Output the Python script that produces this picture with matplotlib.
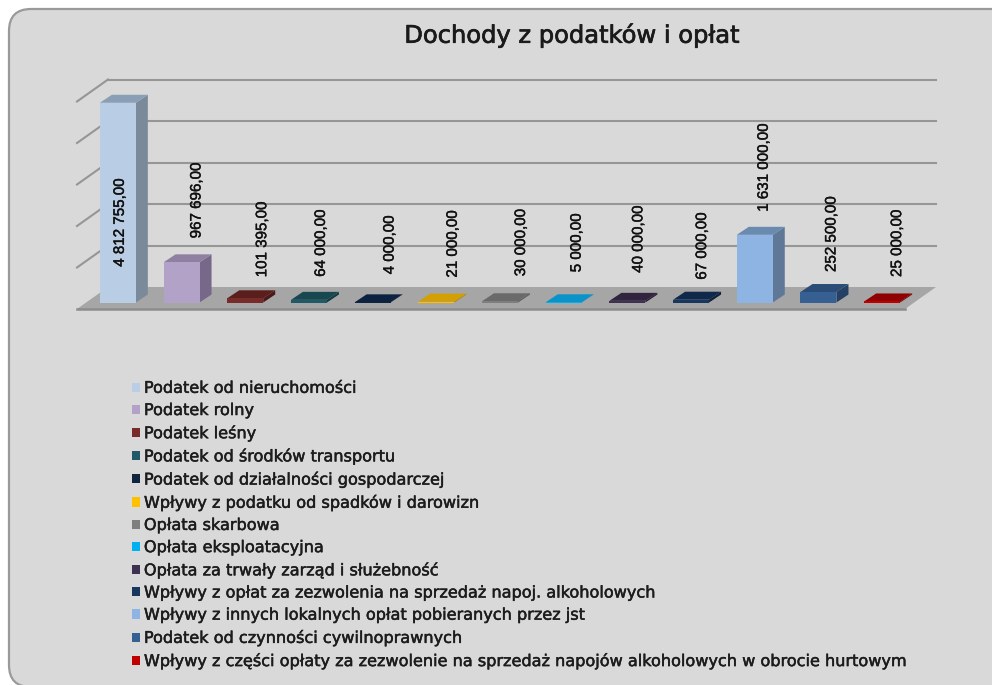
import matplotlib
matplotlib.use('Agg')
import matplotlib.pyplot as plt
import matplotlib.patheffects as pe
from matplotlib.patches import FancyBboxPatch, Patch, Polygon
from matplotlib.transforms import IdentityTransform

plt.rcParams['font.family'] = ['Liberation Sans', 'DejaVu Sans']

categories = [
    'Podatek od nieruchomości',
    'Podatek rolny',
    'Podatek leśny',
    'Podatek od środków transportu',
    'Podatek od działalności gospodarczej',
    'Wpływy z podatku od spadków i darowizn',
    'Opłata skarbowa',
    'Opłata eksploatacyjna',
    'Opłata za trwały zarząd i służebność',
    'Wpływy z opłat za zezwolenia na sprzedaż napoj. alkoholowych',
    'Wpływy z innych lokalnych opłat pobieranych przez jst',
    'Podatek od czynności cywilnoprawnych',
    'Wpływy z części opłaty za zezwolenie na sprzedaż napojów alkoholowych w obrocie hurtowym',
]
values = [4812755, 967696, 101395, 64000, 4000, 21000, 30000, 5000, 40000, 67000, 1631000, 252500, 25000]
grid_values = [0, 1000000, 2000000, 3000000, 4000000, 5000000]

front_colors = ['#b9cde5', '#b3a2c7', '#772c2a', '#215968', '#10253f', '#ffc000', '#7f7f7f',
                '#00b0f0', '#3f3151', '#17375e', '#8eb4e3', '#376092', '#c00000']
top_colors = ['#8a9eb6', '#8f7fa0', '#5a1e1c', '#17474f', '#0d2240', '#d49f00', '#6a6a6a',
              '#0a93c8', '#30243f', '#10294a', '#6b8ab0', '#2a4c76', '#8f0000']
side_colors = ['#7b8a9a', '#77688a', '#4a1a18', '#123a42', '#0a1a30', '#a87f00', '#555555',
               '#0a75a0', '#261c33', '#0c2038', '#5f7898', '#244064', '#700000']

# label position relative to the top of each bar, in pixels
label_dx = [2, 15, 17, 12, 17, 16.5, 21, 13, 11, 11, 9, 13, 15]
label_dy = [-164, 24, 21, 23, 28, 24, 25, 30, 28, 20, 23, 20, 24.5]

W, H = 992, 685
fig = plt.figure(figsize=(W / 100, H / 100), dpi=100, facecolor='white')

# rounded grey panel
bg = fig.add_axes([0, 0, 1, 1])
bg.set_xlim(0, W)
bg.set_ylim(H, 0)
bg.set_axis_off()
bg.add_patch(FancyBboxPatch((9, 9), W + 40, 678, boxstyle='round,pad=0,rounding_size=22',
                            facecolor='#d9d9d9', edgecolor='#9a9a9a', linewidth=1.6))

# plane of the bar fronts
left, right, base, top = 86, 914, 302.5, 95
ax = fig.add_axes([left / W, (H - base) / H, (right - left) / W, (base - top) / H])
ax.set_xlim(-0.5, len(values) - 0.5)
ax.set_ylim(0, 5000000)
ax.set_axis_off()
ax.patch.set_alpha(0)


def face(points, **kw):
    # points are (x, value, depth_x_px, depth_y_px)
    verts = [ax.transData.transform((x, y)) + (dx, dy) for x, y, dx, dy in points]
    ax.add_patch(Polygon(verts, closed=True, transform=IdentityTransform(), clip_on=False,
                         linewidth=0, **kw))


def line(points, **kw):
    verts = [ax.transData.transform((x, y)) + (dx, dy) for x, y, dx, dy in points]
    ax.plot([v[0] for v in verts], [v[1] for v in verts], transform=IdentityTransform(),
            clip_on=False, **kw)


x0, x1 = -0.5, len(values) - 0.5
front_d = (-9, -6.5)
back_d = (22, 15.5)
grid_style = dict(color='#969696', linewidth=1.5, zorder=1)

for g in grid_values[1:]:
    line([(x0, g, *back_d), (x1, g, *back_d)], **grid_style)
    line([(x0, g, *front_d), (x0, g, *back_d)], **grid_style)

# floor
face([(x0, 0, *front_d), (x1, 0, *front_d), (x1, 0, *back_d), (x0, 0, *back_d)],
     facecolor='#a6a6a6', zorder=2)
line([(x0, 0, *front_d), (x1, 0, *front_d)], color='#8c8c8c', linewidth=1.8, zorder=2.5)

# bars with side and top faces
bar_w = 36 / 63.7
depth = (12, 8)
xs = list(range(len(values)))
ax.bar(xs, values, width=bar_w, color=front_colors, linewidth=0, zorder=5)
for i, v in enumerate(values):
    l, r = i - bar_w / 2, i + bar_w / 2
    face([(r, 0, 0, 0), (r, v, 0, 0), (r, v, *depth), (r, 0, *depth)],
         facecolor=side_colors[i], zorder=4)
    face([(l, v, 0, 0), (r, v, 0, 0), (r, v, *depth), (l, v, *depth)],
         facecolor=top_colors[i], zorder=4)
    text = f'{v:,.2f}'.replace(',', ' ').replace('.', ',')
    lab = ax.annotate(text, (i, v), xytext=(label_dx[i], label_dy[i]), textcoords='offset pixels',
                      rotation=90, ha='center', va='bottom', fontsize=10.9, color='#111111', zorder=6)
    lab.set_path_effects([pe.withStroke(linewidth=0.3, foreground='#111111')])

title = fig.text(572 / W, (H - 35) / H, 'Dochody z podatków i opłat', ha='center', va='center',
                 fontsize=17.4, color='#1a1a1a', family='DejaVu Sans')
title.set_path_effects([pe.withStroke(linewidth=0.5, foreground='#1a1a1a')])

handles = [Patch(facecolor=c, linewidth=0) for c in front_colors]
leg = fig.legend(handles, categories, loc='upper left', bbox_to_anchor=(127 / W, (H - 376) / H),
                 frameon=False, handlelength=0.5, handleheight=0.5,
                 handletextpad=0.25, labelspacing=0.446, borderpad=0.3, borderaxespad=0,
                 prop={'family': 'DejaVu Sans', 'size': 11.6})
for t in leg.get_texts():
    t.set_color('#1c1c1c')
    t.set_path_effects([pe.withStroke(linewidth=0.35, foreground='#1c1c1c')])

fig.savefig('out.png', dpi=100)
